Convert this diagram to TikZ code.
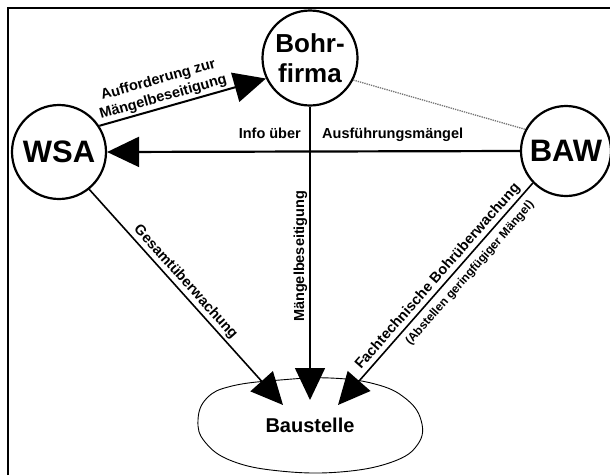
\documentclass[tikz,border=0pt]{standalone}
\usepackage{fontspec}
\setmainfont{Liberation Sans}
\usetikzlibrary{arrows.meta}

\tikzset{
  partner/.style={circle, draw, line width=2.2pt, inner sep=0pt,
    font=\bfseries\fontsize{31}{31}\selectfont},
  flow/.style={line width=1.6pt, -{Triangle[length=32pt,width=30pt]}},
  lbl/.style={font=\bfseries\fontsize{14.5}{18}\selectfont, inner sep=2pt},
  smalllbl/.style={font=\bfseries\fontsize{12}{14}\selectfont, inner sep=6pt},
}

\begin{document}
\begin{tikzpicture}[x=1pt, y=-1pt]
\useasboundingbox (0,0) rectangle (610,475);
\draw[line width=2pt] (7.7,475) |- (610,7.7);

\def\ytips{405};

\node[partner, minimum size=94pt] (wsa) at (59,152) {WSA};
\node[partner, minimum size=90pt] (baw) at (566,151) {BAW};
\node[partner, minimum size=95pt, align=center,
  font=\bfseries\fontsize{26}{30}\selectfont] (bohr) at (310,58) {Bohr-\\firma};

\draw[line width=0.9pt] plot[smooth cycle, tension=0.7] coordinates {
  (198,420) (207,398) (232,386) (280,380) (330,378) (375,384) (405,398)
  (421,420) (418,444) (392,462) (340,472) (280,471) (232,461) (205,442)};
\node[font=\bfseries\fontsize{20}{24}\selectfont] (bst) at (310,425) {Baustelle};

\coordinate (t1) at (283,\ytips);
\coordinate (t2) at (310,400);
\coordinate (t3) at (338,\ytips);

\draw[flow, line width=2pt] (wsa.33) -- node[lbl, sloped, above, pos=0.4, align=center]
  {Aufforderung zur\\Mängelbeseitigung} (bohr.205);

\draw[flow, line width=2.2pt] (baw.west) -- (wsa.east);
\coordinate (cross) at (bohr.south |- wsa.east);
\node[lbl, anchor=base east] (info) at ([xshift=-7pt, yshift=14pt]cross) {Info über};
\node[lbl, anchor=base west] (ausf) at ([xshift=10pt, yshift=14pt]cross) {Ausführungsmängel};

\draw[flow] (wsa.-51) -- node[lbl, sloped, above, pos=0.46] {Gesamtüberwachung} (t1);
\draw[flow] (bohr.south) -- node[lbl, rotate=90, anchor=south, pos=0.51] {Mängelbeseitigung} (t2);
\draw[flow] (baw.224) -- node[lbl, sloped, above, pos=0.45] {Fachtechnische Bohrüberwachung}
  node[smalllbl, sloped, below, pos=0.37] {(Abstellen geringfügiger Mängel)} (t3);

%\draw[gray, dashed] (bohr) -- (baw);
\draw[black!55, densely dotted, line width=1.3pt] (bohr.-27) -- (baw.152);

\end{tikzpicture}
\end{document}
